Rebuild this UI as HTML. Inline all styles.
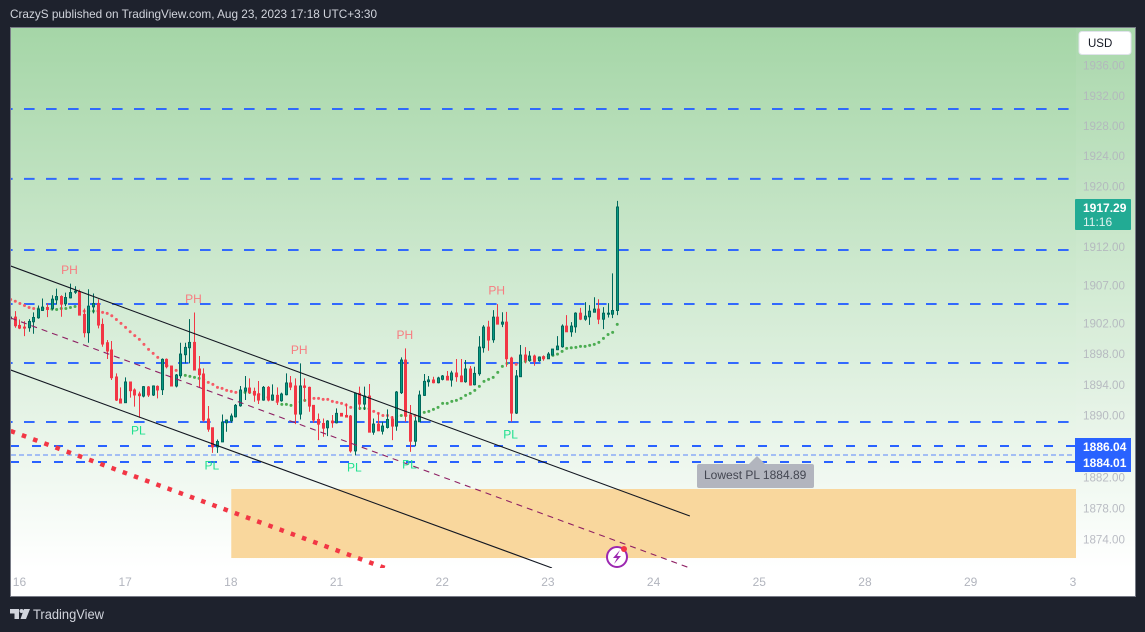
<!DOCTYPE html>
<html>
<head>
<meta charset="utf-8">
<title>CrazyS chart</title>
<style>
html,body{margin:0;padding:0;background:#1e222d;}
body{width:1145px;height:632px;overflow:hidden;position:relative;font-family:"Liberation Sans",sans-serif;}
svg{position:absolute;left:0;top:0;display:block;}
svg text{font-family:"Liberation Sans",sans-serif;}
</style>
</head>
<body>
<svg id="chart" width="1145" height="632" viewBox="0 0 1145 632" xmlns="http://www.w3.org/2000/svg">
  <defs>
    <linearGradient id="paneFill" x1="0" y1="0" x2="0" y2="1">
      <stop offset="0" stop-color="#a5d6a7"/>
      <stop offset="1" stop-color="#ffffff"/>
    </linearGradient>
    <clipPath id="plotClip"><rect x="11" y="28" width="1065" height="540"/></clipPath>
    <clipPath id="timeClip"><rect x="11" y="568" width="1065" height="28"/></clipPath>
  </defs>
  <text x="10" y="18" font-size="12" fill="#d1d4dc" textLength="367" lengthAdjust="spacingAndGlyphs">CrazyS published on TradingView.com, Aug 23, 2023 17:18 UTC+3:30</text>
  <rect x="10.5" y="27.5" width="1125" height="569" fill="#ffffff" stroke="#787b86" stroke-width="1"/>
  <rect x="11" y="28" width="1124" height="540" fill="url(#paneFill)"/>
  <rect x="1076" y="28" width="59" height="540" fill="#ffffff" opacity="0.05"/>
  <g id="zoneLayer" clip-path="url(#plotClip)"></g>
  <g id="levelLayer" clip-path="url(#plotClip)"></g>
  <g id="dotLayer" clip-path="url(#plotClip)"></g>
  <g id="candleLayer" clip-path="url(#plotClip)"></g>
  <g id="lineLayer" clip-path="url(#plotClip)"></g>
  <g id="pivotLayer"></g>
  <g id="priceAxis"></g>
  <g id="timeAxis" clip-path="url(#timeClip)"></g>

  <g>
    <path d="M749 464 L757 456 L765 464 Z" fill="#b2b5be"/>
    <rect x="697" y="464" width="117" height="24" rx="2" fill="#b2b5be"/>
    <text x="704" y="479" font-size="12" fill="#434651">Lowest PL 1884.89</text>
  </g>

  <g>
    <circle cx="617" cy="557" r="10" fill="#ffffff" stroke="#9c27b0" stroke-width="2"/>
    <path d="M620 550 L613 558 L617 558 L614 564 L621 556 L617 556 Z" fill="#9c27b0"/>
    <circle cx="624" cy="549" r="3" fill="#f23645"/>
  </g>

  <g>
    <rect x="1079" y="31.5" width="52" height="23" rx="3" fill="#ffffff" stroke="#e0e3eb" stroke-width="1"/>
    <text x="1088" y="47" font-size="11.5" fill="#131722">USD</text>
  </g>

  <g>
    <rect x="1075" y="199" width="56" height="31" rx="1" fill="#22ab94"/>
    <text x="1083" y="212" font-size="12" font-weight="bold" fill="#ffffff">1917.29</text>
    <text x="1083" y="226" font-size="12" fill="#e0f2ef">11:16</text>
  </g>

  <g>
    <rect x="1075" y="438" width="56" height="34" fill="#2962ff"/>
    <text x="1083" y="451" font-size="12" font-weight="bold" fill="#ffffff">1886.04</text>
    <text x="1083" y="467" font-size="12" font-weight="bold" fill="#ffffff">1884.01</text>
  </g>

  <g>
    <path d="M10 609 H19 V619 H14.5 V613.5 H10 Z" fill="#d1d4dc"/>
    <circle cx="21.5" cy="611" r="2" fill="#d1d4dc"/>
    <path d="M24 609 H30 L26 619 H20.5 Z" fill="#d1d4dc"/>
    <text x="33" y="619" font-size="13.5" fill="#d1d4dc" textLength="71" lengthAdjust="spacingAndGlyphs">TradingView</text>
  </g>
</svg>
<script>
const opens = [1902.62,1902.84,1901.75,1901.53,1901.45,1902.23,1902.75,1903.71,1904.10,1903.97,1905.10,1905.53,1904.58,1905.36,1906.14,1906.14,1903.19,1900.80,1904.18,1904.62,1901.88,1899.49,1898.54,1895.02,1892.15,1891.68,1894.37,1893.33,1892.81,1892.54,1893.72,1892.68,1893.80,
1893.37,1897.32,1896.45,1893.85,1895.19,1897.93,1898.84,1899.53,1896.06,1895.41,1889.55,1888.42,1885.94,1886.59,1889.07,1889.33,1889.85,1891.28,1893.19,1893.58,1893.15,1892.80,1892.02,1893.67,1892.02,1892.63,1891.93,1892.72,1894.24,1893.85,1890.20,1893.85,1893.67,1891.33,1889.50,
1888.98,1888.42,1889.29,1889.07,1890.29,1890.02,1889.94,1885.42,1892.89,1891.50,1892.54,1887.85,1888.90,1887.98,1888.46,1889.55,1888.64,1892.98,1897.23,1890.07,1886.68,1889.20,1892.63,1894.41,1894.63,1894.28,1894.72,1895.11,1894.63,1895.54,
1895.15,1894.41,1896.06,1894.02,1895.45,1898.84,1901.53,1899.88,1902.83,1901.92,1902.18,1897.49,1890.33,1895.06,1897.88,1897.19,1897.75,1897.14,1897.66,1897.40,1897.88,1898.58,1898.97,1901.66,1900.92,1901.57,1903.35,1902.57,1902.88,1903.48,1903.88,1902.57,1903.22,1903.22,1903.70];
const highs = [1903.88,1903.62,1902.53,1902.32,1902.58,1903.45,1904.36,1905.27,1904.62,1905.70,1906.57,1905.70,1906.05,1907.22,1906.88,1906.44,1903.97,1906.49,1905.92,1905.18,1902.66,1899.84,1899.71,1895.50,1893.67,1894.98,1894.37,1893.54,1893.11,1893.85,1893.85,1893.93,1893.93,
1897.45,1897.45,1896.49,1895.41,1899.49,1899.49,1902.57,1903.44,1897.75,1896.15,1891.24,1888.42,1886.90,1890.15,1889.50,1890.28,1891.50,1893.85,1895.15,1894.84,1893.63,1894.50,1893.85,1893.85,1894.06,1893.67,1892.98,1895.50,1895.15,1894.84,1896.80,1894.84,1893.76,1891.37,1890.28,
1889.63,1889.42,1890.07,1890.94,1890.29,1891.59,1890.07,1893.02,1893.76,1893.76,1894.11,1889.63,1890.37,1889.20,1890.81,1889.94,1893.20,1897.58,1898.75,1891.37,1889.85,1893.24,1895.41,1895.15,1895.06,1895.06,1895.28,1895.80,1895.84,1897.36,
1897.36,1897.23,1896.45,1896.36,1900.36,1901.79,1902.36,1903.75,1904.53,1903.48,1903.53,1897.66,1895.93,1899.19,1898.92,1898.40,1897.93,1897.71,1897.84,1898.27,1898.66,1900.36,1901.88,1903.09,1902.18,1903.48,1904.05,1904.79,1904.40,1905.44,1905.18,1904.14,1904.66,1908.57,1918.10];
const lows = [1902.58,1901.45,1901.27,1900.36,1900.93,1900.67,1902.62,1903.66,1902.84,1903.71,1904.49,1902.88,1904.27,1905.27,1905.88,1903.10,1900.19,1899.49,1903.32,1901.36,1898.97,1897.37,1894.63,1891.89,1891.63,1891.63,1892.33,1891.16,1889.72,1892.37,1892.41,1892.54,1892.24,
1892.67,1896.15,1893.85,1893.67,1894.84,1896.80,1896.80,1895.93,1893.67,1889.20,1887.90,1885.16,1885.16,1886.59,1887.90,1889.07,1889.76,1891.15,1892.02,1892.80,1891.80,1891.50,1891.93,1891.85,1891.93,1891.37,1891.80,1892.63,1893.32,1888.89,1889.50,1891.80,1890.50,1889.07,1886.81,
1887.25,1887.33,1888.42,1888.98,1889.94,1889.76,1885.20,1884.86,1890.72,1890.72,1887.85,1887.51,1887.98,1887.55,1888.33,1886.81,1888.03,1892.80,1889.20,1885.29,1886.03,1889.20,1892.54,1893.76,1894.19,1894.19,1894.58,1894.63,1893.76,1894.41,
1894.36,1894.28,1893.89,1893.93,1895.19,1898.19,1898.45,1899.49,1901.92,1901.53,1896.36,1889.20,1890.20,1895.06,1896.80,1897.01,1896.49,1897.01,1897.14,1897.36,1897.80,1898.53,1898.84,1900.92,1900.27,1900.79,1902.44,1902.36,1901.83,1903.44,1901.92,1901.27,1902.79,1902.70,1903.09];
const closes = [1902.84,1901.71,1901.40,1901.45,1902.27,1902.79,1903.88,1904.14,1903.84,1905.18,1905.53,1904.53,1905.40,1906.05,1906.23,1903.10,1900.80,1904.27,1904.62,1901.80,1899.32,1898.41,1894.93,1892.02,1891.63,1894.37,1893.24,1892.68,1892.59,1893.76,1892.68,1893.85,1893.33,
1897.32,1896.36,1893.85,1895.28,1898.01,1898.88,1899.53,1895.93,1895.32,1889.42,1888.24,1885.94,1886.64,1889.15,1889.42,1889.94,1891.33,1893.32,1893.58,1893.02,1892.67,1892.02,1893.67,1892.02,1892.67,1891.89,1892.80,1894.24,1893.71,1890.20,1893.85,1893.67,1891.24,1889.42,1888.89,
1888.37,1889.29,1889.07,1890.29,1889.94,1889.81,1885.42,1892.89,1891.50,1892.54,1887.85,1888.90,1888.03,1888.64,1889.50,1888.64,1893.06,1897.23,1889.94,1886.68,1889.29,1892.67,1894.45,1894.63,1894.28,1894.89,1895.15,1894.63,1895.54,1895.06,
1894.41,1896.06,1893.97,1895.49,1898.92,1901.53,1899.84,1902.83,1901.92,1902.18,1897.40,1890.33,1895.15,1897.88,1897.23,1897.75,1897.06,1897.62,1897.40,1898.01,1898.66,1899.05,1901.66,1900.92,1901.66,1903.35,1902.57,1902.96,1903.61,1903.88,1902.57,1903.35,1903.35,1903.70,1917.29];
const trendValues = [1905.14,1904.92,1904.62,1904.36,1904.10,1903.97,1903.92,1903.97,1903.97,1903.88,1903.84,1903.97,1903.97,1904.10,1904.23,1904.31,1903.62,1903.62,1903.62,1903.62,1903.45,1903.32,1903.01,1902.53,1902.01,1901.49,1900.93,1900.41,1899.93,1899.28,1898.63,1898.10,1897.58,
1896.80,1896.49,1896.15,1895.89,1895.41,1895.23,1895.10,1894.97,1894.84,1894.71,1894.32,1894.06,1893.67,1893.54,1893.28,1893.15,1893.02,1893.02,1893.02,1893.02,1892.89,1892.76,1892.63,1892.37,1892.11,1891.80,1891.46,1891.46,1891.33,1891.50,1891.76,1891.98,1892.15,1892.24,1892.24,
1892.11,1892.11,1891.85,1891.72,1891.59,1891.37,1891.07,1890.98,1890.94,1890.94,1890.89,1890.55,1890.29,1890.02,1890.02,1889.76,1889.94,1890.02,1890.02,1890.02,1890.02,1889.94,1890.42,1890.55,1890.81,1891.07,1891.59,1891.59,1891.85,1891.98,
1892.24,1892.63,1892.89,1893.28,1893.80,1894.45,1894.71,1894.97,1895.62,1896.41,1896.80,1896.75,1896.67,1896.88,1897.06,1897.23,1897.32,1897.45,1897.58,1897.71,1897.84,1898.01,1898.36,1898.75,1898.84,1898.88,1899.01,1899.01,1899.14,1899.27,1899.53,1900.05,1900.57,1900.84,1901.88];
const trendSides = ('rrrrrr'+'gggggggggg'+'r'+'gg'+'rrrrrrrrrrrrrrrrrr'+'gggggg'+'rrrrrrr'+'ggg'+'rrrrrr'+'gggggg'+'rrrrrrrrrr'+'gggg'+'rrrrr'+'gggg'+'rr'+'ggggggggggggggggggg'+'rr'+'gggggggggggggggggggggg').split('');
const priceTicks = [1936,1932,1928,1924,1920,1912,1907,1902,1898,1894,1890,1882,1878,1874];
const dateLabels = ['16','17','18','21','22','23','24','25','28','29','30'];
const solidLevels = [1930.25,1921.0,1911.63,1904.55,1896.85,1889.17];
const alertLevels = [1886.04,1884.01];
const lowestPivot = [1884.89];
const zonePrices = [1880.49,1871.59];
const zoneStartBar = [48];
const upperChannelBars = [0,147.8];
const upperChannelPrices = [1909.53,1877.0];
const lowerChannelBars = [0,117.8];
const lowerChannelPrices = [1895.93,1870.31];
const middleChannelBars = [0,147.8];
const middleChannelPrices = [1902.72,1870.31];
const redTrendBars = [0,81.45];
const redTrendPrices = [1888.0,1870.31];
const pivotHighBars = [13,40,63,86,106];
const pivotLowBars = [28,44,75,87,109];

const SVG_NS = 'http://www.w3.org/2000/svg';
function xScale(bar){ return 10.7 + bar * 4.595; }
function yScale(price){ return 539.3 - 14550 * Math.log(price / 1874); }
function make(tag, parent){
  const el = document.createElementNS(SVG_NS, tag);
  parent.appendChild(el);
  return el;
}
function setAll(el, props){
  Object.keys(props).forEach(function(k){ el.setAttribute(k, props[k]); });
}

/* supply zone */
const zoneLayer = document.getElementById('zoneLayer');
const zone = make('rect', zoneLayer);


setAll(zone, {x: xScale(zoneStartBar[0]), y: yScale(zonePrices[0]), width: 1076 - xScale(zoneStartBar[0]), height: yScale(zonePrices[1]) - yScale(zonePrices[0]), fill: '#f9d79d'});

/* horizontal levels */
const levelLayer = document.getElementById('levelLayer');
solidLevels.forEach(function(p){
  const line = make('line', levelLayer);
  
  
  setAll(line, {x1: 2, x2: 1069, y1: yScale(p), y2: yScale(p), stroke: '#2962ff', 'stroke-width': 2, 'stroke-dasharray': '10.6 11.4', 'stroke-opacity': 0.95});
});
alertLevels.forEach(function(p){
  const line = make('line', levelLayer);
  
  
  setAll(line, {x1: 10, x2: 1075, y1: Math.round(yScale(p)), y2: Math.round(yScale(p)), stroke: '#2962ff', 'stroke-width': 2, 'stroke-dasharray': '9 13'});
});
lowestPivot.forEach(function(p){
  const line = make('line', levelLayer);
  
  
  setAll(line, {x1: 11, x2: 1075, y1: yScale(p), y2: yScale(p), stroke: '#2962ff', 'stroke-width': 1.5, 'stroke-opacity': 0.5, 'stroke-dasharray': '5 3'});
});

/* trend dots */
const dotLayer = document.getElementById('dotLayer');
trendValues.forEach(function(v, i){
  const dot = make('circle', dotLayer);
  
  
  setAll(dot, {cx: xScale(i), cy: yScale(v), r: 1.5, fill: trendSides[i] === 'g' ? '#43a84a' : '#f7525f', 'fill-opacity': 0.95});
});

/* candles */
const candleLayer = document.getElementById('candleLayer');
opens.forEach(function(o, i){
  const c = closes[i];
  const up = c >= o;
  const cx = Math.floor(xScale(i)) + 0.5;
  const wick = make('line', candleLayer);
  
  
  setAll(wick, {x1: cx, x2: cx, y1: yScale(highs[i]), y2: yScale(lows[i]), stroke: up ? '#00695c' : '#f23645', 'stroke-width': 1});
  const top = yScale(Math.max(o, c));
  const bottom = yScale(Math.min(o, c));
  const body = make('rect', candleLayer);
  
  
  setAll(body, {x: cx - 1, y: top, width: 2, height: Math.max(bottom - top, 1), fill: up ? '#089981' : '#f23645', stroke: up ? '#00695c' : '#f23645', 'stroke-width': 1});
});

/* channel lines */
const lineLayer = document.getElementById('lineLayer');
const upperLine = make('line', lineLayer);


setAll(upperLine, {x1: xScale(upperChannelBars[0]), y1: yScale(upperChannelPrices[0]), x2: xScale(upperChannelBars[1]), y2: yScale(upperChannelPrices[1]), stroke: '#131722', 'stroke-width': 1.1});
const lowerLine = make('line', lineLayer);


setAll(lowerLine, {x1: xScale(lowerChannelBars[0]), y1: yScale(lowerChannelPrices[0]), x2: xScale(lowerChannelBars[1]), y2: yScale(lowerChannelPrices[1]), stroke: '#131722', 'stroke-width': 1.1});
const middleLine = make('line', lineLayer);


setAll(middleLine, {x1: xScale(middleChannelBars[0]), y1: yScale(middleChannelPrices[0]), x2: xScale(middleChannelBars[1]), y2: yScale(middleChannelPrices[1]), stroke: '#8e1f63', 'stroke-width': 1.1, 'stroke-dasharray': '6 5'});
const redTrend = make('line', lineLayer);


setAll(redTrend, {x1: xScale(redTrendBars[0]), y1: yScale(redTrendPrices[0]), x2: xScale(redTrendBars[1]), y2: yScale(redTrendPrices[1]), stroke: '#f23645', 'stroke-width': 4.5, 'stroke-dasharray': '4.5 7.43'});

/* pivot labels */
const pivotLayer = document.getElementById('pivotLayer');
pivotHighBars.forEach(function(b){
  const t = make('text', pivotLayer);
  
  
  setAll(t, {x: xScale(b) - 1, y: yScale(highs[b]) - 9.5, 'font-size': 12, 'text-anchor': 'middle', fill: '#f77c80'});
  t.textContent = 'PH';
});
pivotLowBars.forEach(function(b){
  const t = make('text', pivotLayer);
  
  
  setAll(t, {x: xScale(b) - 1, y: yScale(lows[b]) + 16.5, 'font-size': 12, 'text-anchor': 'middle', fill: '#1fe08f'});
  t.textContent = 'PL';
});

/* price axis */
const priceAxis = document.getElementById('priceAxis');
priceTicks.forEach(function(p){
  const t = make('text', priceAxis);
  
  
  setAll(t, {x: 1083, y: yScale(p) + 4, 'font-size': 11.6, fill: '#b2b5be', 'fill-opacity': 0.9});
  t.textContent = p.toFixed(2);
});

/* time axis */
const timeAxis = document.getElementById('timeAxis');
dateLabels.forEach(function(label, k){
  const t = make('text', timeAxis);
  
  
  setAll(t, {x: xScale(1.8 + 23 * k) + 0.5, y: 586, 'font-size': 12, 'text-anchor': 'middle', fill: '#b2b5be'});
  t.textContent = label;
});
</script>
</body>
</html>
